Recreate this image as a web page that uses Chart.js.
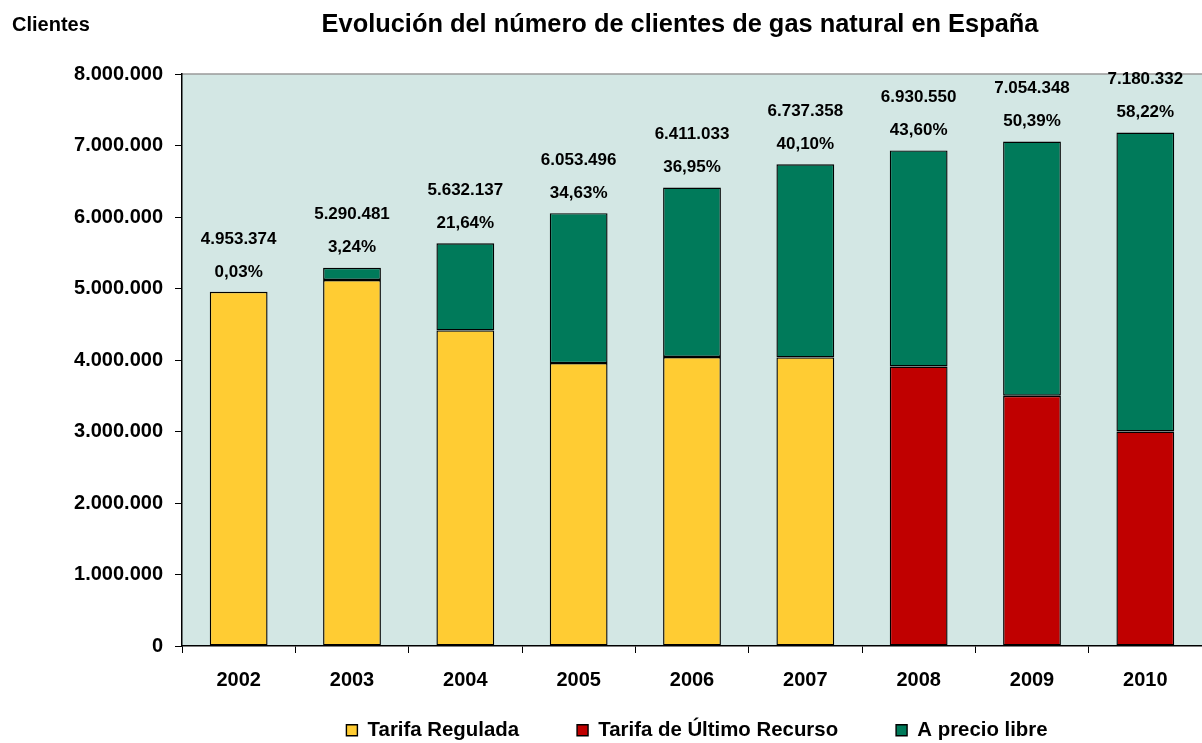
<!DOCTYPE html>
<html>
<head>
<meta charset="utf-8">
<title>Clientes de gas natural en España</title>
<script src="https://cdn.jsdelivr.net/npm/chart.js@4"></script>
<style>
  html, body { margin: 0; padding: 0; background: #fff; overflow: hidden; }
  #wrap { width: 1202px; height: 743px; }
</style>
</head>
<body>
<div id="wrap"><canvas id="chart" width="1202" height="743"></canvas></div>
<script>
const years = ['2002', '2003', '2004', '2005', '2006', '2007', '2008', '2009', '2010'];

// clientes por tipo de suministro
const tarifaRegulada      = [4951888, 5119069, 4413343, 3957170, 4042156, 4035677, null, null, null];
const tarifaUltimoRecurso = [null, null, null, null, null, null, 3908830, 3499662, 2999943];
const precioLibre         = [1486, 171412, 1218794, 2096326, 2368877, 2701681, 3021720, 3554686, 4180389];

// etiquetas encima de cada barra
const totalClientes = [4953374, 5290481, 5632137, 6053496, 6411033, 6737358, 6930550, 7054348, 7180332];
const pctLibre      = [0.03, 3.24, 21.64, 34.63, 36.95, 40.10, 43.60, 50.39, 58.22];

const FONT = '"Liberation Sans", Arial, sans-serif';

function miles(n) {
  return String(Math.round(n)).replace(/\B(?=(\d{3})+(?!\d))/g, '.');
}

function porcentaje(p) {
  return p.toFixed(2).replace('.', ',') + '%';
}

const plotBackground = {
  id: 'plotBackground',
  beforeDraw(chart) {
    const ctx = chart.ctx;
    const a = chart.chartArea;
    ctx.save();
    ctx.fillStyle = '#d3e7e4';
    ctx.fillRect(a.left, a.top, a.right - a.left, a.bottom - a.top);
    ctx.strokeStyle = '#9a9a9a';
    ctx.lineWidth = 1.5;
    ctx.beginPath();
    ctx.moveTo(a.left, a.top);
    ctx.lineTo(a.right, a.top);
    ctx.stroke();
    ctx.restore();
  }
};

// the legend needs wide gaps between items but little room above them
const legendPlace = {
  id: 'legendPlace',
  afterLayout(chart) {
    const lg = chart.legend;
    if (!lg) return;
    lg.top = 662;
    lg.bottom = 743;
    lg.height = 81;
    lg.left += 5;
    lg.right += 5;
  }
};

const textos = {
  id: 'textos',
  afterDraw(chart) {
    const ctx = chart.ctx;
    ctx.save();
    ctx.fillStyle = '#000';
    ctx.textBaseline = 'alphabetic';
    ctx.font = 'bold 20px ' + FONT;
    ctx.textAlign = 'left';
    ctx.fillText('Clientes', 12, 31);
    ctx.font = 'bold 25.4px ' + FONT;
    ctx.textAlign = 'center';
    ctx.fillText('Evolución del número de clientes de gas natural en España', 680, 32);
    ctx.restore();
  },
  afterDatasetsDraw(chart) {
    const ctx = chart.ctx;
    const meta = chart.getDatasetMeta(2);
    ctx.save();
    ctx.fillStyle = '#000';
    ctx.font = 'bold 17px ' + FONT;
    ctx.textAlign = 'center';
    ctx.textBaseline = 'middle';
    meta.data.forEach(function(bar, i) {
      ctx.fillText(porcentaje(pctLibre[i]), bar.x, bar.y - 20);
      ctx.fillText(miles(totalClientes[i]), bar.x, bar.y - 53);
    });
    ctx.restore();
  }
};

const barStyle = {
  borderColor: '#000',
  borderWidth: 1.4,
  borderSkipped: false,
  barPercentage: 0.51,
  categoryPercentage: 1
};

new Chart(document.getElementById('chart').getContext('2d'), {
  type: 'bar',
  data: {
    labels: years,
    datasets: [
      Object.assign({label: 'Tarifa Regulada', data: tarifaRegulada, backgroundColor: '#ffcc33'}, barStyle),
      Object.assign({label: 'Tarifa de Último Recurso', data: tarifaUltimoRecurso, backgroundColor: '#c00000'}, barStyle),
      Object.assign({label: 'A precio libre', data: precioLibre, backgroundColor: '#007a5a'}, barStyle)
    ]
  },
  options: {
    responsive: false,
    animation: false,
    events: [],
    layout: {
      padding: {top: 74, left: 0, right: 0, bottom: 0}
    },
    plugins: {
      title: {display: false},
      tooltip: {enabled: false},
      legend: {
        position: 'bottom',
        fullSize: false,
        maxHeight: 47,
        labels: {
          color: '#000',
          font: {family: FONT, size: 20.4, weight: 'bold'},
          boxWidth: 11,
          boxHeight: 11,
          padding: 58
        }
      }
    },
    scales: {
      x: {
        stacked: true,
        grid: {drawOnChartArea: false, tickLength: 7, tickColor: '#000', offset: true},
        border: {color: '#000', width: 1.5},
        ticks: {color: '#000', font: {family: FONT, size: 20, weight: 'bold'}, padding: 15, maxRotation: 0},
        afterFit: function(scale) { scale.height = 50; }
      },
      y: {
        stacked: true,
        min: 0,
        max: 8000000,
        grid: {drawOnChartArea: false, tickLength: 7, tickColor: '#000'},
        border: {color: '#000', width: 1.5},
        ticks: {
          stepSize: 1000000,
          color: '#000',
          padding: 12,
          font: {family: FONT, size: 20, weight: 'bold'},
          callback: function(v) { return miles(v); }
        },
        afterFit: function(scale) { scale.width = 182; }
      }
    }
  },
  plugins: [plotBackground, legendPlace, textos]
});
</script>
</body>
</html>
